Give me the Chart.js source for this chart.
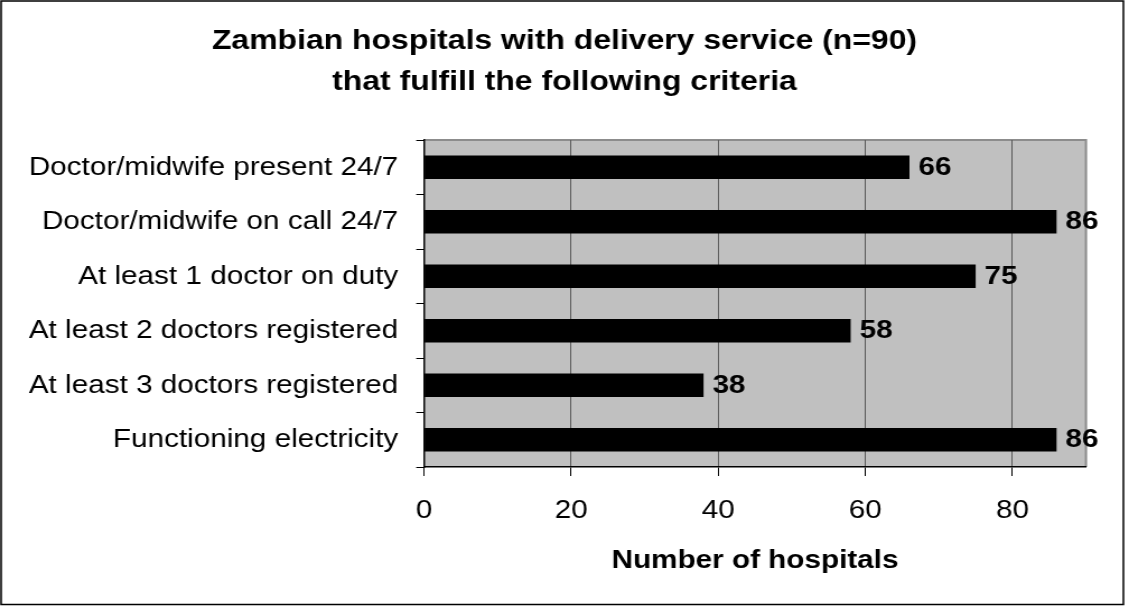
<!DOCTYPE html>
<html>
<head>
<meta charset="utf-8">
<script src="https://cdn.jsdelivr.net/npm/chart.js@4.4.1/dist/chart.umd.min.js"></script>
<style>
  html, body { margin: 0; padding: 0; background: #fff; }
</style>
</head>
<body>
<!-- the reference lettering is a little wide, so the 1008px canvas is stretched to 1129px -->
<canvas id="chart" width="1008" height="607" style="display:block;width:1129px;height:607px"></canvas>
<script>
const categories = [
    "Doctor/midwife present 24/7",
    "Doctor/midwife on call 24/7",
    "At least 1 doctor on duty",
    "At least 2 doctors registered",
    "At least 3 doctors registered",
    "Functioning electricity",
];
const hospitals = [66, 86, 75, 58, 38, 86];
const xTicks = [0, 20, 40, 60, 80];
const xMax = 90;

const titleLines = [
    "Zambian hospitals with delivery service (n=90)",
    "that fulfill the following criteria",
];
const xTitle = "Number of hospitals";

const FONT = "'Liberation Sans', Arial, sans-serif";

// grey plot area, its frame and the outer border round the whole picture
const framePlugin = {
    id: "frame",
    afterLayout(chart) {
        // centre the title on the whole canvas, not on the padded box
        const t = chart.titleBlock;
        if (t) {
            t.left = 0;
            t.right = chart.width;
            t.width = chart.width;
        }
    },
    beforeDraw(chart) {
        const ctx = chart.ctx;
        const a = chart.chartArea;
        ctx.save();
        ctx.fillStyle = "#fff";
        ctx.fillRect(0, 0, chart.width, chart.height);

        ctx.strokeStyle = "#000";
        ctx.lineWidth = 1.5;
        ctx.strokeRect(1, 1, chart.width - 6, chart.height - 3.5);

        ctx.fillStyle = "#c0c0c0";
        ctx.fillRect(a.left, a.top, a.right - a.left, a.bottom - a.top);

        ctx.strokeStyle = "#8c8c8c";
        ctx.lineWidth = 2;
        ctx.beginPath();
        ctx.moveTo(a.left, a.top);
        ctx.lineTo(a.right, a.top);
        ctx.lineTo(a.right, a.bottom);
        ctx.stroke();
        ctx.restore();
    },
};

// value written just after the end of each bar
const valueLabels = {
    id: "valueLabels",
    afterDatasetsDraw(chart) {
        const ctx = chart.ctx;
        const meta = chart.getDatasetMeta(0);
        ctx.save();
        ctx.font = "bold 26.5px " + FONT;
        ctx.fillStyle = "#000";
        ctx.textAlign = "left";
        ctx.textBaseline = "middle";
        meta.data.forEach((bar, i) => {
            ctx.fillText(String(hospitals[i]), bar.x + 8, bar.y);
        });
        ctx.restore();
    },
};

new Chart(document.getElementById("chart"), {
    type: "bar",
    data: {
        labels: categories,
        datasets: [{
            data: hospitals,
            backgroundColor: "#000",
            borderWidth: 0,
            barPercentage: 0.43,
            categoryPercentage: 1,
        }],
    },
    options: {
        indexAxis: "y",
        responsive: false,
        animation: false,
        devicePixelRatio: 1,
        layout: {
            padding: { top: 0, left: 10, right: 38.4, bottom: 3 },
        },
        plugins: {
            legend: { display: false },
            tooltip: { enabled: false },
            title: {
                display: true,
                text: titleLines,
                color: "#000",
                font: { family: FONT, size: 28.5, weight: "bold", lineHeight: 41 / 28.5 },
                padding: { top: 20.5, bottom: 37.5 },
            },
        },
        scales: {
            x: {
                min: 0,
                max: xMax,
                afterBuildTicks: (scale) => {
                    scale.ticks = xTicks.map(v => ({ value: v }));
                },
                afterFit: (scale) => {
                    scale.height = 137;
                },
                grid: {
                    color: "#5a5a5a",
                    lineWidth: 1,
                    tickColor: "#000",
                    tickLength: 9,
                },
                border: { color: "#000", width: 1.5 },
                ticks: {
                    color: "#000",
                    padding: 18.9,
                    font: { family: FONT, size: 26.5 },
                },
                title: {
                    display: true,
                    text: xTitle,
                    color: "#000",
                    font: { family: FONT, size: 26.5, weight: "bold" },
                    padding: { top: 0, bottom: 27.3 },
                },
            },
            y: {
                afterFit: (scale) => {
                    scale.width = 368.6;
                },
                grid: {
                    offset: true,
                    drawOnChartArea: false,
                    tickColor: "#000",
                    tickLength: 7,
                },
                border: { color: "#000", width: 1.5 },
                ticks: {
                    color: "#000",
                    padding: 16,
                    font: { family: FONT, size: 26.5 },
                },
            },
        },
    },
    plugins: [framePlugin, valueLabels],
});
</script>
</body>
</html>
